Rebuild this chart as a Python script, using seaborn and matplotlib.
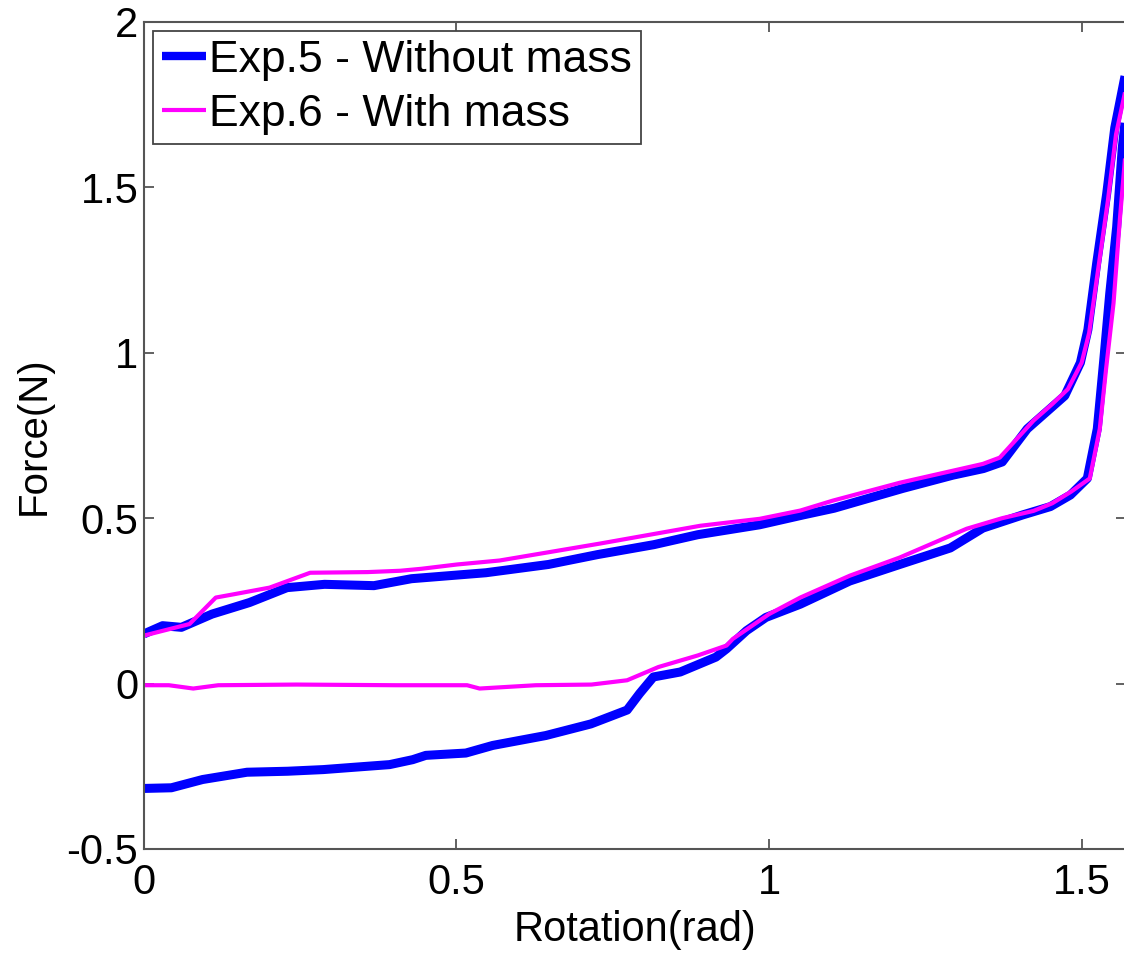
import numpy as np
import pandas as pd
import matplotlib
matplotlib.use("Agg")
import matplotlib.pyplot as plt
import seaborn as sns

# Exp.5 - without mass: loading branch then unloading branch
exp5_rot_up = [0.0, 0.03, 0.06, 0.109, 0.169, 0.229, 0.289, 0.368, 0.428, 0.547,
               0.647, 0.726, 0.816, 0.886, 0.985, 1.055, 1.104, 1.214, 1.294, 1.343,
               1.373, 1.413, 1.443, 1.473, 1.498, 1.510, 1.524, 1.540, 1.553, 1.5708]
exp5_force_up = [0.15, 0.175, 0.17, 0.21, 0.245, 0.29, 0.30, 0.296, 0.317, 0.335,
                 0.36, 0.39, 0.42, 0.45, 0.48, 0.51, 0.53, 0.59, 0.63, 0.65,
                 0.67, 0.77, 0.82, 0.87, 0.97, 1.07, 1.27, 1.48, 1.68, 1.85]
exp5_rot_down = [1.5708, 1.565, 1.556, 1.545, 1.535, 1.525, 1.509, 1.482, 1.45, 1.406,
                 1.342, 1.316, 1.29, 1.209, 1.129, 1.05, 0.995, 0.964, 0.932, 0.915,
                 0.858, 0.815, 0.793, 0.773, 0.715, 0.643, 0.558, 0.515, 0.451, 0.43,
                 0.393, 0.336, 0.287, 0.23, 0.165, 0.094, 0.044, 0.0]
exp5_force_down = [1.72, 1.62, 1.38, 1.18, 0.97, 0.77, 0.62, 0.57, 0.535, 0.51,
                   0.47, 0.44, 0.41, 0.36, 0.31, 0.24, 0.20, 0.16, 0.105, 0.08,
                   0.035, 0.02, -0.03, -0.08, -0.122, -0.157, -0.187, -0.21, -0.217, -0.23,
                   -0.245, -0.253, -0.26, -0.265, -0.268, -0.29, -0.315, -0.317]

# Exp.6 - with mass: loading branch then unloading branch
exp6_rot_up = [0.0, 0.073, 0.115, 0.144, 0.201, 0.266, 0.358, 0.41, 0.444, 0.501,
               0.569, 0.729, 0.89, 0.985, 1.05, 1.102, 1.209, 1.342, 1.369, 1.423,
               1.453, 1.478, 1.5, 1.512, 1.527, 1.542, 1.555, 1.5708]
exp6_force_up = [0.145, 0.18, 0.26, 0.27, 0.29, 0.335, 0.337, 0.341, 0.347, 0.36,
                 0.372, 0.423, 0.477, 0.498, 0.523, 0.553, 0.607, 0.664, 0.683, 0.795,
                 0.845, 0.89, 0.97, 1.06, 1.26, 1.46, 1.66, 1.80]
exp6_rot_down = [1.5708, 1.561, 1.551, 1.539, 1.529, 1.513, 1.483, 1.453, 1.423, 1.373,
                 1.316, 1.209, 1.129, 1.05, 1.0, 0.942, 0.932, 0.886, 0.823, 0.773,
                 0.716, 0.627, 0.537, 0.517, 0.403, 0.244, 0.119, 0.079, 0.04, 0.0]
exp6_force_down = [1.62, 1.4, 1.15, 0.95, 0.77, 0.62, 0.58, 0.545, 0.522, 0.5,
                   0.468, 0.381, 0.326, 0.26, 0.21, 0.135, 0.115, 0.085, 0.05, 0.01,
                   -0.003, -0.005, -0.015, -0.005, -0.005, -0.003, -0.005, -0.015, -0.005, -0.005]

labels = ["Exp.5 - Without mass", "Exp.6 - With mass"]
x_ticks = [0, 0.5, 1, 1.5]
x_tick_labels = ["0", "0.5", "1", "1.5"]
y_ticks = [-0.5, 0, 0.5, 1, 1.5, 2]
y_tick_labels = ["-0.5", "0", "0.5", "1", "1.5", "2"]

exp5 = pd.DataFrame({"rotation": exp5_rot_up + exp5_rot_down,
                     "force": exp5_force_up + exp5_force_down})
exp6 = pd.DataFrame({"rotation": exp6_rot_up + exp6_rot_down,
                     "force": exp6_force_up + exp6_force_down})

sns.set_theme(style="white")
plt.rcParams["font.family"] = ["Liberation Sans", "DejaVu Sans"]
plt.rcParams["text.color"] = "black"
plt.rcParams["axes.labelcolor"] = "black"
plt.rcParams["xtick.color"] = "black"
plt.rcParams["ytick.color"] = "black"

fig = plt.figure(figsize=(11.24, 9.58), dpi=100)
ax = fig.add_axes([0.128, 0.1138, 0.8737, 0.8633])

sns.lineplot(data=exp5, x="rotation", y="force", sort=False, estimator=None,
             color="#0000ff", linewidth=6.5, label=labels[0], ax=ax,
             solid_joinstyle="round", solid_capstyle="butt")
sns.lineplot(data=exp6, x="rotation", y="force", sort=False, estimator=None,
             color="#ff00ff", linewidth=3.0, label=labels[1], ax=ax,
             solid_joinstyle="round", solid_capstyle="butt")

ax.set_xlim(0, np.pi / 2)
ax.set_ylim(-0.5, 2)
ax.set_xticks(x_ticks)
ax.set_xticklabels(x_tick_labels)
ax.set_yticks(y_ticks)
ax.set_yticklabels(y_tick_labels)

ax.tick_params(axis="both", which="both", direction="in", length=7, width=1.3,
               color="#555555", labelsize=30, labelcolor="black",
               top=True, right=True, bottom=True, left=True)
ax.tick_params(axis="x", pad=10)
ax.tick_params(axis="y", pad=4)
for side in ["left", "right", "top", "bottom"]:
    ax.spines[side].set_color("#555555")
    ax.spines[side].set_linewidth(1.5)
    ax.spines[side].set_visible(True)

ax.set_xlabel("Rotation(rad)", fontsize=30, labelpad=5, color="black")
ax.set_ylabel("Force(N)", fontsize=29, labelpad=10, color="black")

leg = ax.legend(loc="upper left", fontsize=32, frameon=True, fancybox=False,
                borderpad=0.2, labelspacing=0.3, handlelength=1.0,
                handletextpad=0.06, borderaxespad=0.2)
leg.get_frame().set_edgecolor("#444444")
leg.get_frame().set_linewidth(1.3)
leg.get_frame().set_alpha(1)
for txt in leg.get_texts():
    txt.set_color("black")
for line, lw in zip(leg.get_lines(), [6.0, 3.0]):
    line.set_linewidth(lw)

fig.savefig("out.png", dpi=100, facecolor="white")
